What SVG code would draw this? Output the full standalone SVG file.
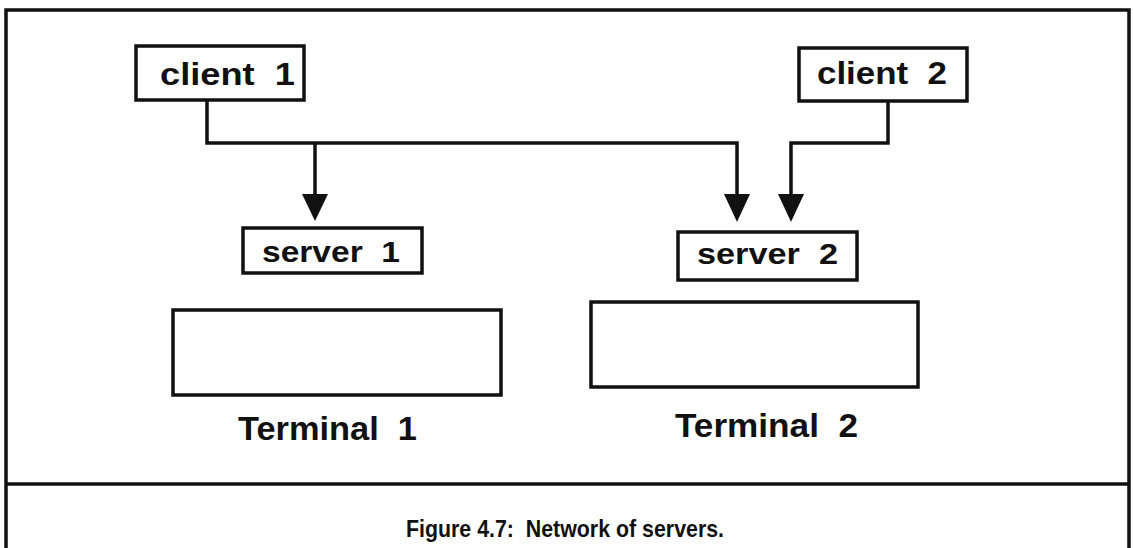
<svg xmlns="http://www.w3.org/2000/svg" width="1133" height="548" viewBox="0 0 1133 548">
<defs>
<style>
.frame{fill:none;stroke:#111;stroke-width:3.5}
.box{fill:#fff;stroke:#111;stroke-width:3.5}
.conn{fill:none;stroke:#111;stroke-width:3.5}
.lbl{font-family:"Liberation Sans",Arial,sans-serif;font-weight:bold;fill:#111}
</style>
</defs>
<rect width="1133" height="548" fill="#fff"/>
<g id="frame">
<path class="frame" d="M6,560 L6,10 L1129,10 L1129,560"/>
<line class="frame" x1="6" y1="484" x2="1129" y2="484"/>
</g>
<g id="connectors">
<polyline class="conn" points="207,101 207,143 737,143 737,196"/>
<line class="conn" x1="315" y1="143" x2="315" y2="196"/>
<polyline class="conn" points="888,101 888,143 791,143 791,196"/>
<path d="M302,194 L328,194 L315,221 Z" fill="#111"/>
<path d="M724,194 L750,194 L737,222 Z" fill="#111"/>
<path d="M778,194 L804,194 L791,222 Z" fill="#111"/>
</g>
<g id="client1">
<rect class="box" x="136" y="46" width="168" height="54"/>
<text class="lbl" x="160" y="85" font-size="32" textLength="135" lengthAdjust="spacingAndGlyphs" xml:space="preserve">client  1</text>
</g>
<g id="client2">
<rect class="box" x="799" y="48" width="168" height="53"/>
<text class="lbl" x="817" y="84" font-size="32" textLength="130" lengthAdjust="spacingAndGlyphs" xml:space="preserve">client  2</text>
</g>
<g id="server1">
<rect class="box" x="243" y="228" width="179" height="45"/>
<text class="lbl" x="262" y="262" font-size="29" textLength="138" lengthAdjust="spacingAndGlyphs" xml:space="preserve">server  1</text>
</g>
<g id="server2">
<rect class="box" x="678" y="232" width="179" height="48"/>
<text class="lbl" x="697" y="264" font-size="29" textLength="141" lengthAdjust="spacingAndGlyphs" xml:space="preserve">server  2</text>
</g>
<g id="terminal1">
<rect class="box" x="173" y="310" width="328" height="85"/>
<text class="lbl" x="238" y="440" font-size="33" textLength="179" lengthAdjust="spacingAndGlyphs" xml:space="preserve">Terminal  1</text>
</g>
<g id="terminal2">
<rect class="box" x="591" y="302" width="327" height="85"/>
<text class="lbl" x="675" y="437" font-size="33" textLength="183" lengthAdjust="spacingAndGlyphs" xml:space="preserve">Terminal  2</text>
</g>
<g id="caption">
<text class="lbl" x="406" y="537" font-size="24" textLength="318" lengthAdjust="spacingAndGlyphs" xml:space="preserve">Figure 4.7:  Network of servers.</text>
</g>
</svg>
